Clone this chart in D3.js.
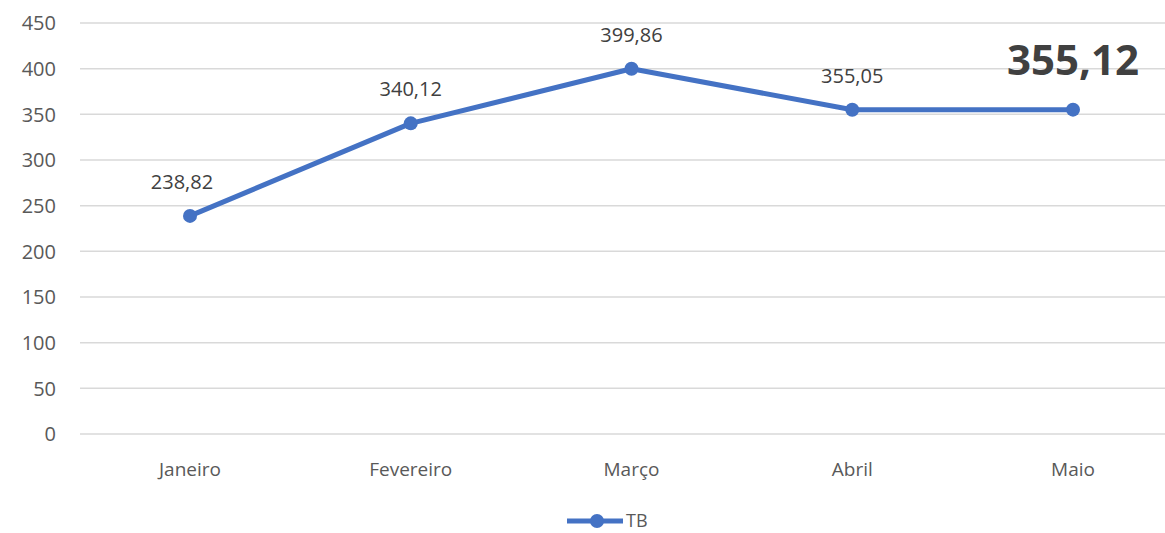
<!DOCTYPE html>
<html>
<head>
<meta charset="utf-8">
<script src="https://d3js.org/d3.v7.min.js"></script>
<style>
  body { margin: 0; background: #fff; }
  text { font-family: "Open Sans", sans-serif; }
</style>
</head>
<body>
<script>
var months = ["Janeiro", "Fevereiro", "Março", "Abril", "Maio"];
var values = [238.82, 340.12, 399.86, 355.05, 355.12];
var yTicks = [0, 50, 100, 150, 200, 250, 300, 350, 400, 450];
var seriesName = "TB";

const W = 1165, H = 533;
const plotLeft = 80, plotTop = 23, plotBottom = 434;

const svg = d3.select("body").append("svg")
  .attr("width", W).attr("height", H);

var x = d3.scalePoint().domain(months).range([190, 1073]);
var y = d3.scaleLinear().domain([0, 450]).range([plotBottom, plotTop]);

// gridlines
svg.append("g").selectAll("line")
  .data(yTicks).enter().append("line")
  .attr("x1", plotLeft).attr("x2", W)
  .attr("y1", d => y(d)).attr("y2", d => y(d))
  .attr("stroke", "#d9d9d9").attr("stroke-width", 1.5);

// y axis labels
svg.append("g").selectAll("text")
  .data(yTicks).enter().append("text")
  .attr("x", 56).attr("y", d => y(d))
  .attr("dy", "0.36em")
  .attr("text-anchor", "end")
  .attr("fill", "#595959").attr("font-size", 20)
  .text(d => d);

// x axis labels
svg.append("g").selectAll("text")
  .data(months).enter().append("text")
  .attr("x", d => x(d)).attr("y", 476)
  .attr("text-anchor", "middle")
  .attr("fill", "#595959").attr("font-size", 19)
  .text(d => d);

var line = d3.line()
  .x((d, i) => x(months[i]))
  .y(d => y(d));

svg.append("path")
  .datum(values)
  .attr("d", line)
  .attr("fill", "none")
  .attr("stroke", "#4472C4")
  .attr("stroke-width", 5)
  .attr("stroke-linejoin", "round");

svg.append("g").selectAll("circle")
  .data(values).enter().append("circle")
  .attr("cx", (d, i) => x(months[i]))
  .attr("cy", d => y(d))
  .attr("r", 7)
  .attr("fill", "#4472C4");

var fmt = d => d.toFixed(2).replace(".", ",");
var last = values.length - 1;

// data labels, the last one highlighted
svg.append("g").selectAll("text")
  .data(values).enter().append("text")
  .attr("x", (d, i) => x(months[i]) + (i === 0 ? -8 : 0))
  .attr("y", (d, i) => i === last ? y(d) - 35 : y(d) - 27)
  .attr("text-anchor", "middle")
  .attr("fill", "#404040")
  .attr("font-size", (d, i) => i === last ? 42 : 20)
  .attr("font-weight", (d, i) => i === last ? "bold" : "normal")
  .text(fmt);

// legend
var lg = svg.append("g").attr("transform", "translate(567,521)");
lg.append("line").attr("x1", 0).attr("x2", 56)
  .attr("stroke", "#4472C4").attr("stroke-width", 5);
lg.append("circle").attr("cx", 30).attr("r", 7).attr("fill", "#4472C4");
lg.append("text").attr("x", 59).attr("y", 6)
  .attr("fill", "#595959").attr("font-size", 18)
  .text(seriesName);
</script>
</body>
</html>
